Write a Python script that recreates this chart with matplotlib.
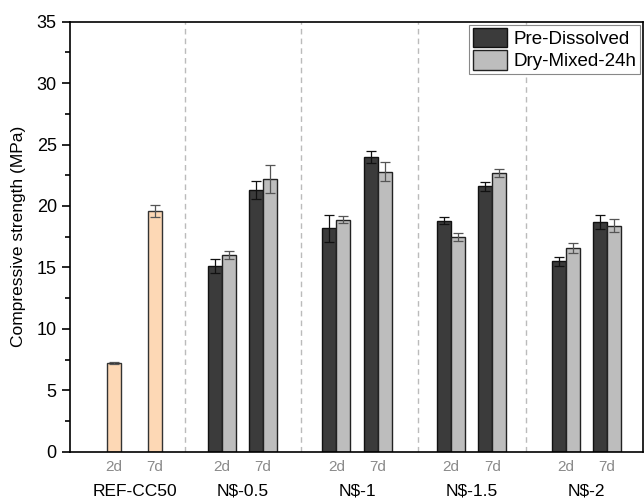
import matplotlib
matplotlib.use("Agg")
import matplotlib.pyplot as plt
import matplotlib.transforms as mtransforms
from matplotlib.patches import Patch

plt.rcParams['font.family'] = ['Liberation Sans', 'DejaVu Sans']

groups = ["REF-CC50", "N$-0.5", "N$-1", "N$-1.5", "N$-2"]
ages = ["2d", "7d"]

# reference mix (2d, 7d)
ref_vals = [7.2, 19.6]
ref_err = [0.1, 0.5]

# N$ mixes, order: N$-0.5, N$-1, N$-1.5, N$-2
pre_2d = [15.1, 18.2, 18.8, 15.5]
pre_2d_err = [0.55, 1.1, 0.3, 0.35]
pre_7d = [21.3, 24.0, 21.6, 18.7]
pre_7d_err = [0.7, 0.5, 0.35, 0.6]
dry_2d = [16.0, 18.9, 17.5, 16.6]
dry_2d_err = [0.3, 0.3, 0.33, 0.4]
dry_7d = [22.2, 22.8, 22.7, 18.4]
dry_7d_err = [1.15, 0.8, 0.35, 0.52]

# layout
group_pos = [0, 0.94, 1.94, 2.94, 3.94]
sep_pos = [0.44, 1.452, 2.472, 3.41]
age_off = 0.179
w = 0.122

dark = "#3b3b3b"
light = "#bdbdbd"
peach = "#fdd8b5"

fig = plt.figure(figsize=(6.44, 4.98), dpi=100)
ax = fig.add_axes([0.1087, 0.093, 0.8897, 0.8634])

for s in sep_pos:
    ax.axvline(s, color="#bbbbbb", ls=(0, (4, 3)), lw=1, zorder=0)

ekw = dict(elinewidth=0.9, capthick=0.9)

# REF bars
ref_x = [group_pos[0] - age_off, group_pos[0] + age_off]
ax.bar(ref_x, ref_vals, width=w, color=peach, edgecolor="#333333", lw=1, zorder=2)
ax.errorbar(ref_x, ref_vals, yerr=ref_err, fmt="none", ecolor="#555555",
            capsize=3.8, zorder=3, **ekw)

# N$ bars
xs2 = [p - age_off for p in group_pos[1:]]
xs7 = [p + age_off for p in group_pos[1:]]
for xs, pv, pe, dv, de in [(xs2, pre_2d, pre_2d_err, dry_2d, dry_2d_err),
                           (xs7, pre_7d, pre_7d_err, dry_7d, dry_7d_err)]:
    xd = [x - w / 2 for x in xs]
    xl = [x + w / 2 for x in xs]
    ax.bar(xd, pv, width=w, color=dark, edgecolor="#111111", lw=1, zorder=2)
    ax.bar(xl, dv, width=w, color=light, edgecolor="#222222", lw=1, zorder=2)
    ax.errorbar(xd, pv, yerr=pe, fmt="none", ecolor="#111111", capsize=3.8,
                zorder=3, **ekw)
    ax.errorbar(xl, dv, yerr=de, fmt="none", ecolor="#555555", capsize=3.8,
                zorder=3, **ekw)

ax.set_xlim(-0.562, 4.433)
ax.set_ylim(0, 35)
ax.set_yticks(range(0, 36, 5))
ax.set_yticks([2.5 + 5 * i for i in range(7)], minor=True)
ax.tick_params(axis="y", which="major", length=6, width=1.2, labelsize=13, direction="out")
ax.tick_params(axis="y", which="minor", length=3.5, width=1.2, direction="out")

tick_x = []
tick_lab = []
for p in group_pos:
    tick_x += [p - age_off, p + age_off]
    tick_lab += ages
ax.set_xticks(tick_x)
ax.set_xticklabels(tick_lab, color="#8a8a8a", fontsize=11)
ax.tick_params(axis="x", length=0, pad=6)

trans = mtransforms.blended_transform_factory(ax.transData, ax.transAxes)
for p, g in zip(group_pos, groups):
    ax.text(p, -0.092, g, transform=trans, ha="center", va="center", fontsize=12.5)

for sp in ax.spines.values():
    sp.set_linewidth(1.2)

ax.set_ylabel("Compressive strength (MPa)", fontsize=12.5, labelpad=8)

handles = [Patch(facecolor=dark, edgecolor="#111111", label="Pre-Dissolved"),
           Patch(facecolor=light, edgecolor="#222222", label="Dry-Mixed-24h")]
leg = ax.legend(handles=handles, loc="upper right", fontsize=13.5, fancybox=False,
                edgecolor="#888888", framealpha=1, borderpad=0.2,
                handlelength=1.8, handleheight=1.2, handletextpad=0.35,
                labelspacing=0.12, borderaxespad=0.15)
leg.get_frame().set_linewidth(0.8)

fig.savefig("out.png", dpi=100)
